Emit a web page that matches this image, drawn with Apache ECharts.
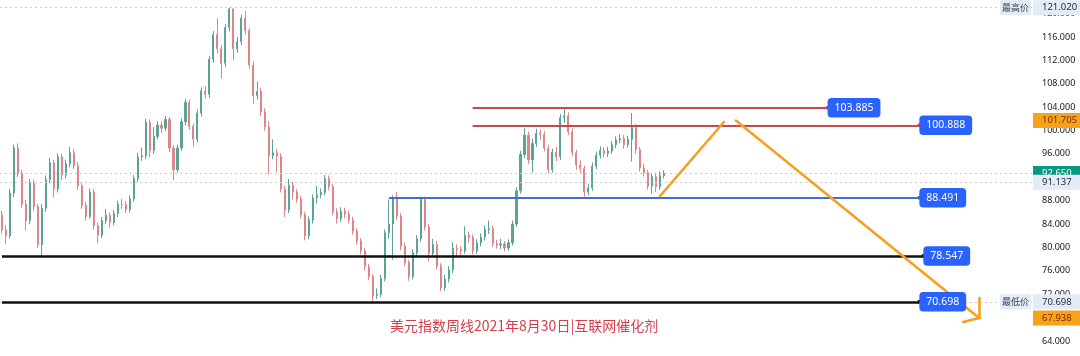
<!DOCTYPE html>
<html>
<head>
<meta charset="utf-8">
<script src="https://cdn.jsdelivr.net/npm/echarts@6/dist/echarts.min.js"></script>
<style>
  html, body { margin: 0; padding: 0; background: #ffffff; }
  #chart { width: 1080px; height: 356px; }
</style>
</head>
<body>
<div id="chart"></div>
<script>
// US Dollar Index, condensed candles (about two months per candle)
const opens = [
  85.5, 83, 82, 89.3, 97, 92.7, 87.4, 84.6, 91, 87,
  80.5, 86.7, 91.6, 94.5, 90, 95.5, 92.4, 94.3, 96.2, 94,
  90.5, 87.2, 85.3, 89.5, 83.7, 82.1, 84.6, 85.5, 84.3, 85.8,
  87.4, 87.3, 86.5, 88.3, 91.8, 95.5, 95.7, 101.4, 96.6, 99,
  100.9, 100.4, 101.9, 97, 93.3, 97, 101.5, 104.8, 100.7, 98.5,
  103, 106.8, 106.2, 112.2, 116.4, 114, 111.5, 117.6, 120.8, 114,
  115.2, 119.2, 117.1, 111.2, 106, 106.7, 103.2, 100.6, 95.7, 96.2,
  95.6, 90, 86.4, 90.6, 89.5, 88.3, 85.6, 82, 84.7, 88.5,
  89, 89.4, 91.8, 90.4, 86.1, 84.9, 86.2, 85.7, 84.7, 82.8,
  81.1, 79.4, 76.7, 75, 71.8, 72, 74.7, 82.5, 84, 88.5,
  85.3, 80.2, 77.4, 75, 79.1, 81.5, 88.2, 83.5, 79, 80.5,
  76.8, 73.1, 74.6, 76.2, 79.9, 79.7, 79.4, 82.1, 81.7, 79.4,
  80.8, 81.8, 83.1, 83.2, 80.7, 80.4, 80.6, 79.9, 80.8, 84,
  89.7, 95.9, 99.2, 95, 97.8, 99.5, 99.3, 97, 93.3, 96.3,
  95.5, 102.2, 102.5, 99.8, 96.2, 94.1, 93.5, 89.5, 90.2, 93.9,
  95.8, 96.6, 96.1, 96.5, 97.6, 98.4, 98.6, 97.6, 98.5, 100.5,
  96.7, 93.6, 92.8, 90.5, 92.1, 90.4, 92.3
];
const closes = [
  83, 82, 89.3, 97, 92.7, 87.4, 84.6, 91, 87, 80.5,
  86.7, 91.6, 94.5, 90, 95.5, 92.4, 94.3, 96.2, 94, 90.5,
  87.2, 85.3, 89.5, 83.7, 82.1, 84.6, 85.5, 84.3, 85.8, 87.4,
  87.3, 86.5, 88.3, 91.8, 95.5, 95.7, 101.4, 96.6, 99, 100.9,
  100.4, 101.9, 97, 93.3, 97, 101.5, 104.8, 100.7, 98.5, 103,
  106.8, 106.2, 112.2, 116.4, 114, 111.5, 117.6, 120.8, 114, 115.2,
  119.2, 117.1, 111.2, 106, 106.7, 103.2, 100.6, 95.7, 96.2, 95.6,
  90, 86.4, 90.6, 89.5, 88.3, 85.6, 82, 84.7, 88.5, 89,
  89.4, 91.8, 90.4, 86.1, 84.9, 86.2, 85.7, 84.7, 82.8, 81.1,
  79.4, 76.7, 75, 71.8, 72, 74.7, 82.5, 84, 88.5, 85.3,
  80.2, 77.4, 75, 79.1, 81.5, 88.2, 83.5, 79, 80.5, 76.8,
  73.1, 74.6, 76.2, 79.9, 79.7, 79.4, 82.1, 81.7, 79.4, 80.8,
  81.8, 83.1, 83.2, 80.7, 80.4, 80.6, 79.9, 80.8, 84, 89.7,
  95.9, 99.2, 95, 97.8, 99.5, 99.3, 97, 93.3, 96.3, 95.5,
  102.2, 102.5, 99.8, 96.2, 94.1, 93.5, 89.5, 90.2, 93.9, 95.8,
  96.6, 96.1, 96.5, 97.6, 98.4, 98.6, 97.6, 98.5, 100.5, 96.7,
  93.6, 92.8, 90.5, 92.1, 90.4, 92.3, 92.65
];
const lows = [
  82.4, 80.6, 81.5, 88.6, 92, 86.8, 82.9, 84, 86.3, 79.9,
  78.5, 86.1, 91, 88.6, 89.4, 91.5, 91.8, 93.7, 93.4, 89.9,
  86.6, 84.6, 84.9, 83.1, 80.7, 81.6, 84, 83.4, 83.8, 85.2,
  86.6, 85.9, 86, 87.8, 91.2, 94.8, 95.1, 95.4, 96, 98.5,
  99.6, 99.9, 96.3, 91.5, 92.8, 96.5, 100.9, 100.1, 97.2, 98,
  102.4, 105.4, 105.6, 111.6, 113.2, 108.9, 110.9, 117, 112, 113.3,
  114.6, 116.4, 110.6, 104.6, 105.3, 102.5, 100, 92.6, 95.1, 92.9,
  89.4, 85.2, 85.9, 88.2, 87.6, 85, 81.2, 81.4, 84.1, 87.5,
  88.4, 88.9, 89.8, 85.5, 84.1, 84.4, 85, 84.1, 82.2, 80.5,
  78.8, 76.1, 74.4, 70.698, 71.2, 71.5, 74.2, 81.5, 77.9, 84.7,
  79.5, 76.8, 74.3, 74.5, 78.6, 81, 82.9, 77.6, 78.4, 76.2,
  72.5, 72.6, 74, 75.6, 78.6, 78.7, 78.9, 80.8, 78.8, 78.9,
  80.2, 81.2, 82.3, 80.1, 79.8, 79.7, 79.3, 79.4, 80.3, 83.5,
  89.2, 95.3, 94.3, 92.8, 97.2, 98.4, 96.4, 92.7, 92.8, 94.8,
  95, 101.3, 99.2, 95.6, 93.3, 92.8, 88.7, 88.9, 89.7, 93.4,
  95.2, 95.4, 95.5, 96, 97, 97.8, 96.9, 97.1, 94.7, 96,
  93, 92.1, 89.9, 89.2, 89.5, 89.9, 91.8
];
const highs = [
  86.3, 83.8, 90, 97.6, 97.8, 93.3, 88.1, 91.7, 91.6, 87.5,
  87.4, 92.3, 95.3, 95, 96.1, 96, 95, 97.2, 96.9, 94.6,
  91, 87.8, 90.1, 90, 84.3, 85.2, 86.6, 86, 86.4, 88,
  88.3, 87.9, 88.9, 92.4, 96.2, 97.1, 102, 101.9, 100.6, 101.6,
  101.5, 102.5, 102.3, 97.5, 97.6, 102.1, 105.4, 105.3, 101.2, 103.6,
  107.4, 107.6, 112.8, 117, 119.2, 114.6, 118.2, 121.02, 121, 116,
  119.8, 120.4, 117.6, 111.8, 108.4, 107.3, 103.8, 101.6, 98.5, 96.9,
  96.1, 90.6, 91.7, 91.2, 90, 88.9, 86.1, 85.3, 89.1, 90.5,
  90.1, 92.4, 92.3, 90.9, 86.7, 86.9, 86.8, 86.3, 85.2, 83.3,
  81.6, 79.9, 77.2, 75.5, 73, 75.3, 83.1, 88.2, 88.9, 89.5,
  85.9, 80.8, 77.9, 79.7, 82.1, 88.7, 88.7, 84, 81.5, 81.1,
  77.3, 75.3, 76.8, 80.9, 80.5, 80.2, 83.6, 82.7, 82.2, 81.4,
  82.4, 83.7, 84.6, 83.7, 81.3, 81.5, 81.1, 81.4, 84.6, 90.3,
  96.5, 100.4, 99.8, 98.6, 100.3, 100.2, 99.9, 97.6, 96.9, 97.2,
  102.8, 103.885, 103.1, 100.4, 96.7, 94.9, 94, 90.9, 94.5, 96.4,
  97.3, 97.1, 97.2, 98.2, 99, 99.4, 99.2, 99.1, 102.99, 101.1,
  97.2, 94.3, 93.3, 92.7, 92.8, 93, 93.2
];

// Time slots on the x axis: the candles plus empty room on the right for the projection
const slotCount = 259;
const slots = Array.from({ length: slotCount }, (_, i) => String(i));

// Visible price range and the labelled prices on the scale
const priceMin = 61.43;
const priceMax = 122.33;
const priceTicks = [64, 68, 72, 76, 80, 84, 88, 92, 96, 100, 104, 108, 112, 116, 120];

// Horizontal levels drawn on the chart: value, first slot, last slot
const levelValues = [103.885, 100.888, 88.491, 78.547, 70.698];
const levelFrom   = [118, 118, 97, 0, 0];
const levelTo     = [207, 230, 230, 231, 230];
const levelColors = ['#c8474b', '#c8474b', '#3d6fd8', '#111111', '#111111'];

// Projected path (slot, value) pairs, with the open arrow head at the end
const pathSegments = [
  [[165, 88.8], [181, 101.46]],
  [[184, 101.705], [245, 67.938]],
  [[245, 71.35], [245, 67.938]],
  [[241, 67.25], [245, 67.938]]
];

// Price-scale tags
const tagValues = [121.020, 101.705, 92.650, 91.137, 70.698, 67.938];
const tagNotes  = ['最高价', '', '', '', '最低价', ''];
const tagFills  = ['#e3ebf6', '#f7a21b', '#089981', '#e3ebf6', '#e3ebf6', '#f7a21b'];
const tagInks   = ['#2a2e39', '#7a2c05', '#ffffff', '#2a2e39', '#2a2e39', '#7a2c05'];
// Dotted price lines across the chart
const dottedLines = [121.020, 92.650, 91.137, 70.698];

const titleText = '美元指数周线2021年8月30日|互联网催化剂';

const candles = opens.map((o, i) => [o, closes[i], lows[i], highs[i]]);
const FONT = "'Noto Sans', 'Noto Sans CJK SC', sans-serif";

const chart = echarts.init(document.getElementById('chart'), null, { renderer: 'canvas' });

const levelLines = levelValues.map((v, i) => [
  { coord: [levelFrom[i], v], symbol: 'none',
    lineStyle: { color: levelColors[i], width: i >= 3 ? 2.5 : 2, type: 'solid' },
    label: {
      show: true, position: 'end', distance: 0,
      formatter: () => v.toFixed(3),
      color: '#ffffff', backgroundColor: '#2962ff', borderRadius: 4,
      padding: [5, 7, 4, 7], fontSize: 10.5, fontFamily: FONT
    }
  },
  { coord: [levelTo[i], v], symbol: 'circle', symbolSize: 4 }
]);

const pathLines = pathSegments.map(seg => [
  { coord: seg[0], lineStyle: { color: '#f5a020', width: 2.6, type: 'solid', cap: 'round' }, label: { show: false } },
  { coord: seg[1] }
]);

chart.setOption({
  animation: false,
  backgroundColor: '#ffffff',
  title: {
    text: titleText, left: 390, top: 319, padding: 0,
    textStyle: { color: '#d2404c', fontSize: 14, fontWeight: 'normal', fontFamily: "'Noto Sans CJK SC', sans-serif" }
  },
  grid: { left: 0, right: 47, top: 0, bottom: 0 },
  xAxis: {
    type: 'category', data: slots, boundaryGap: true, show: false
  },
  yAxis: {
    type: 'value', position: 'right', min: priceMin, max: priceMax,
    axisLine: { show: false }, axisTick: { show: false }, splitLine: { show: false },
    axisLabel: {
      margin: 9, align: 'left', color: '#131722', fontSize: 9, fontFamily: FONT,
      customValues: priceTicks,
      formatter: v => v.toFixed(3)
    }
  },
  series: [
    {
      type: 'candlestick', data: candles, barWidth: 1.6,
      itemStyle: { color: '#5aa396', color0: '#de8588', borderColor: '#5aa396', borderColor0: '#de8588', borderWidth: 1 }
    },
    {
      type: 'line', data: [], clip: false, silent: true,
      markLine: {
        silent: true, animation: false, symbol: 'none',
        label: { show: false },
        lineStyle: { color: '#c9ccd3', width: 1, type: [2, 3] },
        data: dottedLines.map(v => ({ yAxis: v }))
      }
    },
    {
      type: 'line', data: [], clip: false, silent: true, z: 5,
      markLine: {
        silent: true, animation: false, symbol: 'none',
        data: levelLines.concat(pathLines)
      }
    }
  ]
});

// Tags on the price scale, placed through the y axis scale
const gridRect = chart.getModel().getComponent('grid').coordinateSystem.getRect();
const scaleLeft = gridRect.x + gridRect.width;
const elements = [];
tagValues.forEach((v, i) => {
  const y = chart.convertToPixel({ yAxisIndex: 0 }, v);
  elements.push({
    type: 'rect', z: 100,
    shape: { x: scaleLeft, y: y - 7.5, width: 1080 - scaleLeft, height: 15 },
    style: { fill: tagFills[i] }
  });
  elements.push({
    type: 'text', z: 101,
    style: { text: v.toFixed(3), x: scaleLeft + 9, y: y, fill: tagInks[i], fontSize: 9.5, fontFamily: FONT, verticalAlign: 'middle', align: 'left' }
  });
  if (tagNotes[i]) {
    elements.push({
      type: 'rect', z: 100,
      shape: { x: scaleLeft - 33, y: y - 7.5, width: 31, height: 15 },
      style: { fill: '#e3ebf6' }
    });
    elements.push({
      type: 'text', z: 101,
      style: { text: tagNotes[i], x: scaleLeft - 17.5, y: y, fill: '#3a4150', fontSize: 9, fontFamily: "'Noto Sans CJK SC', sans-serif", verticalAlign: 'middle', align: 'center' }
    });
  }
});
chart.setOption({ graphic: { elements } });
</script>
</body>
</html>
